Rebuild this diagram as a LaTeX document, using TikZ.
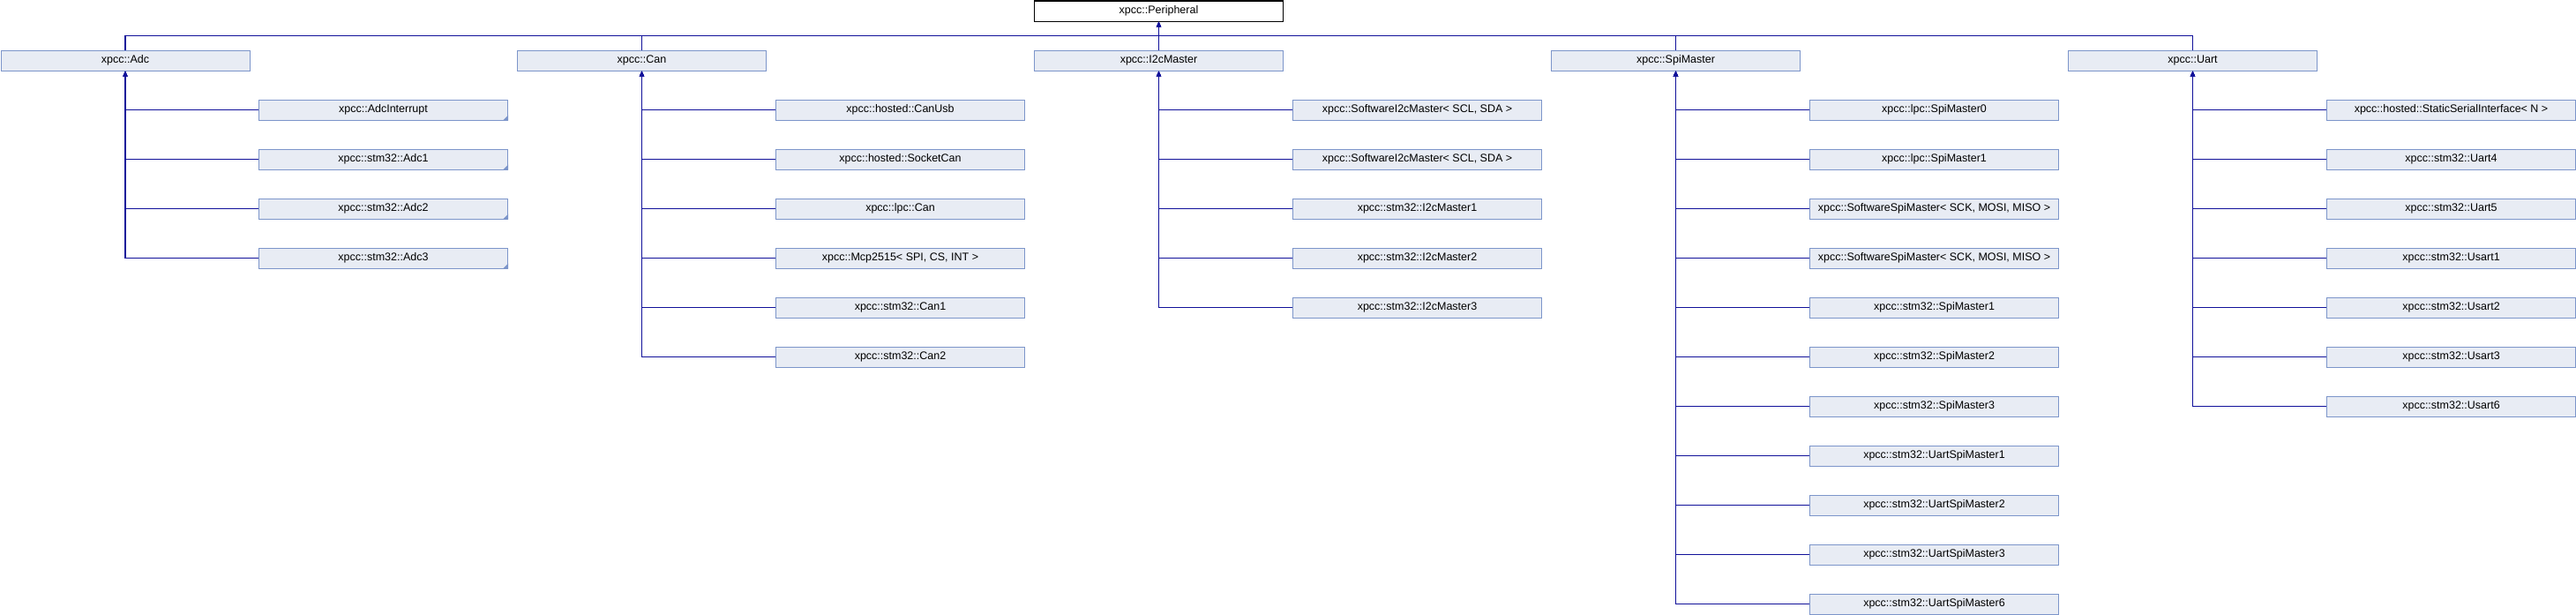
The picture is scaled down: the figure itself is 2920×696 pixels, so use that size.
\documentclass[tikz,border=0pt]{standalone}
\usepackage{fontspec}
\setmainfont{Liberation Sans}
\usetikzlibrary{arrows.meta}
\definecolor{boxfill}{HTML}{E8ECF4}
\definecolor{boxline}{HTML}{7C95CA}
\definecolor{edgecol}{HTML}{11119A}
\tikzset{
 cls/.style={draw=boxline, fill=boxfill, line width=1pt, minimum width=282pt, minimum height=23pt, inner sep=0pt, anchor=north west, font=\fontsize{12.5}{14}\selectfont},
 rootcls/.style={cls, draw=black, fill=white},
 inh/.style={draw=edgecol, line width=1.1pt, -{Triangle[width=5pt,length=6pt]}},
 moremark/.style={fill=boxline, draw=none}
}
\begin{document}
\begin{tikzpicture}[x=1pt,y=-1pt]
\useasboundingbox (0,0) rectangle (2920,696);
\node[rootcls] (per) at (1172,0.5) {xpcc::Peripheral};
\node[cls] (adc) at (0.5,56.5) {xpcc::Adc};
\node[cls] (can) at (586,56.5) {xpcc::Can};
\node[cls] (i2c) at (1172,56.5) {xpcc::I2cMaster};
\node[cls] (spi) at (1758,56.5) {xpcc::SpiMaster};
\node[cls] (uart) at (2344,56.5) {xpcc::Uart};
\foreach \n in {adc,can,i2c,spi,uart}
  \draw[inh] (\n.north) -- ++(0,-16) -| (per.south);
% Adc
\foreach \t [count=\i from 0] in {xpcc::AdcInterrupt, xpcc::stm32::Adc1, xpcc::stm32::Adc2, xpcc::stm32::Adc3}{
  \node[cls] (adc\i) at (293,{112.5+56*\i}) {\t};
  \fill[moremark] (adc\i.south east) -- ++(-6,0) -- ++(6,-6) -- cycle;
  \draw[inh] (adc\i.west) -| (adc.south);
}
% Can
\foreach \t [count=\i from 0] in {xpcc::hosted::CanUsb, xpcc::hosted::SocketCan, xpcc::lpc::Can, {xpcc::Mcp2515< SPI, CS, INT >}, xpcc::stm32::Can1, xpcc::stm32::Can2}{
  \node[cls] (can\i) at (879,{112.5+56*\i}) {\t};
  \draw[inh] (can\i.west) -| (can.south);
}
% I2cMaster
\foreach \t [count=\i from 0] in {{xpcc::SoftwareI2cMaster< SCL, SDA >}, {xpcc::SoftwareI2cMaster< SCL, SDA >}, xpcc::stm32::I2cMaster1, xpcc::stm32::I2cMaster2, xpcc::stm32::I2cMaster3}{
  \node[cls] (i2c\i) at (1465,{112.5+56*\i}) {\t};
  \draw[inh] (i2c\i.west) -| (i2c.south);
}
% SpiMaster
\foreach \t [count=\i from 0] in {xpcc::lpc::SpiMaster0, xpcc::lpc::SpiMaster1, {xpcc::SoftwareSpiMaster< SCK, MOSI, MISO >}, {xpcc::SoftwareSpiMaster< SCK, MOSI, MISO >}, xpcc::stm32::SpiMaster1, xpcc::stm32::SpiMaster2, xpcc::stm32::SpiMaster3, xpcc::stm32::UartSpiMaster1, xpcc::stm32::UartSpiMaster2, xpcc::stm32::UartSpiMaster3, xpcc::stm32::UartSpiMaster6}{
  \node[cls] (spi\i) at (2051,{112.5+56*\i}) {\t};
  \draw[inh] (spi\i.west) -| (spi.south);
}
% Uart
\foreach \t [count=\i from 0] in {{xpcc::hosted::StaticSerialInterface< N >}, xpcc::stm32::Uart4, xpcc::stm32::Uart5, xpcc::stm32::Usart1, xpcc::stm32::Usart2, xpcc::stm32::Usart3, xpcc::stm32::Usart6}{
  \node[cls] (uart\i) at (2637,{112.5+56*\i}) {\t};
  \draw[inh] (uart\i.west) -| (uart.south);
}
\end{tikzpicture}
\end{document}
